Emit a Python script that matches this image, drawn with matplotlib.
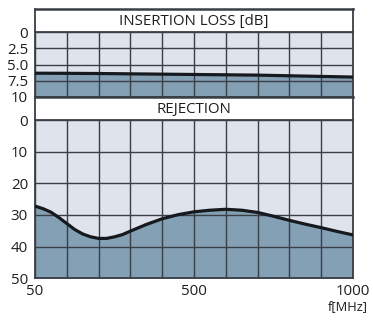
import numpy as np
import matplotlib
matplotlib.use("Agg")
import matplotlib.pyplot as plt

plt.rcParams['font.family'] = ['Open Sans', 'DejaVu Sans']

# Frequency points (MHz) and measured curves
freq_mhz = [50, 72.5, 95, 117.5, 140, 162.5, 185, 207.5, 230, 252.5, 275, 297.5,
            320, 365, 410, 455, 500, 550, 600, 650, 700, 750, 800, 850, 900, 950, 1000]
rejection_db = [27.2, 28.0, 29.1, 30.8, 32.7, 34.6, 36.0, 36.9, 37.4, 37.4, 36.9, 36.2,
                35.1, 33.0, 31.2, 29.9, 29.0, 28.5, 28.2, 28.5, 29.2, 30.4, 31.7, 32.9,
                34.0, 35.2, 36.3]
insertion_freq = [50, 140, 230, 320, 410, 500, 600, 700, 800, 900, 1000]
insertion_db = [6.35, 6.37, 6.4, 6.45, 6.5, 6.55, 6.6, 6.65, 6.75, 6.85, 6.95]

grid_freqs = [50, 140, 230, 320, 410, 500, 600, 700, 800, 900, 1000]
x_tick_labels = {50: "50", 500: "500", 1000: "1000"}
il_ticks = [0, 2.5, 5.0, 7.5, 10]
il_tick_labels = ["0", "2.5", "5.0", "7.5", "10"]
rej_ticks = [0, 10, 20, 30, 40, 50]
rej_tick_labels = ["0", "10", "20", "30", "40", "50"]

LIGHT = "#dfe3eb"
DARK = "#84a0b5"
GRID = "#3a3f45"
CURVE = "#161a1e"
TEXT = "#1e1e1e"
FS = 10.8

W, H = 373, 320
fig = plt.figure(figsize=(W / 100, H / 100), dpi=100)
fig.patch.set_facecolor("white")


def box(left, top, right, bottom):
    return [left / W, 1 - bottom / H, (right - left) / W, (bottom - top) / H]


# piecewise-linear frequency axis: 50..500 and 500..1000 each span half the width
def fwd(f):
    return np.interp(f, [50, 500, 1000], [0, 5, 10])


def inv(p):
    return np.interp(p, [0, 5, 10], [50, 500, 1000])


L, R = 35, 353


def band(top, bottom, title):
    ax = fig.add_axes(box(L, top, R, bottom))
    ax.set_facecolor("white")
    ax.set_xticks([])
    ax.set_yticks([])
    for s in ax.spines.values():
        s.set_color(GRID)
        s.set_linewidth(1.3)
    ax.spines["top"].set_linewidth(1.8)
    ax.spines["bottom"].set_visible(False)
    ax.text(0.5, 0.47, title, ha="center", va="center", fontsize=FS,
            color=TEXT, transform=ax.transAxes)
    return ax


def panel(top, bottom, x, y, ymax, ticks, labels, show_x):
    ax = fig.add_axes(box(L, top, R, bottom))
    ax.set_xscale("function", functions=(fwd, inv))
    ax.set_facecolor(LIGHT)
    ax.fill_between(x, y, ymax, color=DARK, lw=0, zorder=1)
    ax.plot(x, y, color=CURVE, lw=2.3, solid_capstyle="round",
            solid_joinstyle="round", zorder=4)
    ax.set_xlim(50, 1000)
    ax.set_ylim(ymax, 0)
    ax.set_xticks(grid_freqs)
    if show_x:
        ax.set_xticklabels([x_tick_labels.get(f, "") for f in grid_freqs])
    else:
        ax.set_xticklabels([])
    ax.set_yticks(ticks)
    ax.set_yticklabels(labels)
    ax.tick_params(axis="both", length=0, labelsize=FS, colors=TEXT)
    ax.tick_params(axis="y", pad=5)
    ax.tick_params(axis="x", pad=4)
    ax.grid(True, color=GRID, lw=1.0, zorder=2)
    ax.set_axisbelow(False)
    for s in ax.spines.values():
        s.set_color(GRID)
        s.set_linewidth(1.3)
    return ax


band(9, 32.3, "INSERTION LOSS [dB]")
panel(32.3, 96.7, insertion_freq, insertion_db, 10, il_ticks, il_tick_labels, False)
band(96.7, 120, "REJECTION")
panel(120, 278.3, freq_mhz, rejection_db, 50, rej_ticks, rej_tick_labels, True)

fig.text(348 / W, 1 - 307 / H, "f[MHz]", ha="center", va="center",
         fontsize=9.3, color=TEXT)

fig.savefig("out.png", dpi=100)
